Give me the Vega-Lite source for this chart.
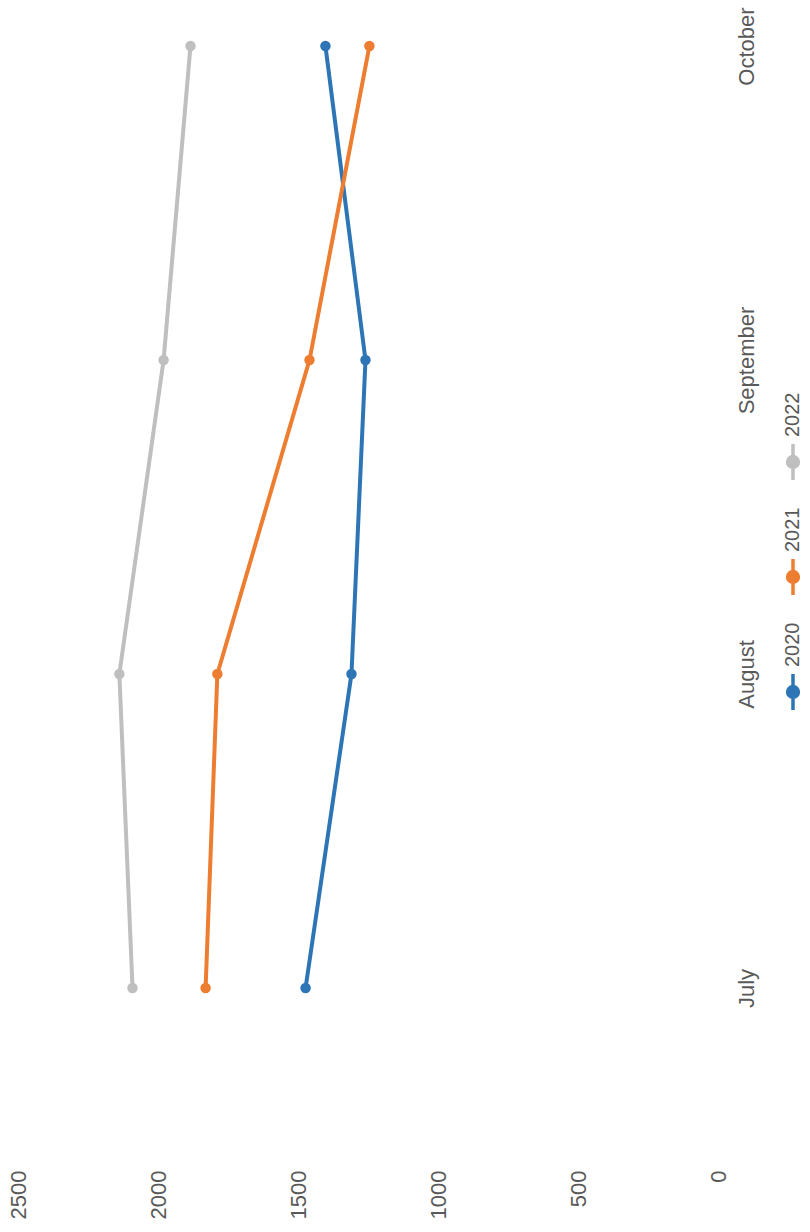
{
  "$schema": "https://vega.github.io/schema/vega-lite/v6.json",
  "width": 700,
  "height": 1034,
  "autosize": {"type": "none"},
  "padding": {"left": 18, "top": 0, "right": 92, "bottom": 198},
  "background": "white",
  "config": {"view": {"stroke": null}, "font": "Liberation Sans"},
  "data": {
    "values": [
      {"year": "2020", "month": "July", "m": 7, "value": 1473},
      {"year": "2020", "month": "August", "m": 8, "value": 1309},
      {"year": "2020", "month": "September", "m": 9, "value": 1259},
      {"year": "2020", "month": "October", "m": 10, "value": 1402},
      {"year": "2021", "month": "July", "m": 7, "value": 1830},
      {"year": "2021", "month": "August", "m": 8, "value": 1788},
      {"year": "2021", "month": "September", "m": 9, "value": 1459},
      {"year": "2021", "month": "October", "m": 10, "value": 1245},
      {"year": "2022", "month": "July", "m": 7, "value": 2091},
      {"year": "2022", "month": "August", "m": 8, "value": 2138},
      {"year": "2022", "month": "September", "m": 9, "value": 1980},
      {"year": "2022", "month": "October", "m": 10, "value": 1884}
    ]
  },
  "encoding": {
    "y": {
      "field": "month", "type": "ordinal",
      "sort": ["October", "September", "August", "July"],
      "scale": {"padding": 0.1465},
      "axis": {"orient": "right", "title": null, "domain": false, "ticks": false, "grid": false,
        "labelAngle": -90, "labelAlign": "center", "labelBaseline": "middle", "labelPadding": 28,
        "labelFontSize": 22, "labelColor": "#595959"}
    },
    "x": {
      "field": "value", "type": "quantitative",
      "scale": {"domain": [0, 2500], "reverse": true, "nice": false},
      "axis": {"values": [0, 500, 1000, 1500, 2000, 2500], "format": "d", "title": null, "domain": false, "ticks": false, "grid": false,
        "labelAngle": -90, "labelAlign": "right", "labelBaseline": "middle", "labelPadding": 136,
        "labelFontSize": 22, "labelColor": "#595959"}
    },
    "color": {
      "field": "year", "type": "nominal",
      "scale": {"domain": ["2022", "2021", "2020"], "range": ["#BFBFBF", "#ED7D31", "#2E75B6"]},
      "legend": {
        "orient": "none", "legendX": 775, "legendY": 462, "direction": "vertical", "title": null, "padding": 0,
        "symbolType": "M0,-1L0,1M0.3,0A0.3,0.3,0,1,1,-0.3,0A0.3,0.3,0,1,1,0.3,0Z",
        "symbolSize": 1296, "symbolStrokeWidth": 3.5, "labelFontSize": 20, "labelColor": "#595959", "rowPadding": 20,
        "encode": {
          "symbols": {"update": {"x": {"value": 0}, "y": {"value": 0}, "size": {"value": 1296},
            "fill": {"scale": "color", "field": "value"}, "stroke": {"scale": "color", "field": "value"},
            "strokeWidth": {"value": 3.5}, "opacity": {"value": 1}}},
          "labels": {"update": {"x": {"value": 0}, "y": {"value": 0}, "dx": {"value": 25},
            "angle": {"value": -90}, "align": {"value": "left"}, "baseline": {"value": "middle"}}}
        }
      }
    }
  },
  "layer": [
    {"mark": {"type": "line", "strokeWidth": 4}, "encoding": {"order": {"field": "m", "type": "quantitative"}}},
    {"mark": {"type": "point", "filled": true, "size": 110, "opacity": 1}}
  ]
}
